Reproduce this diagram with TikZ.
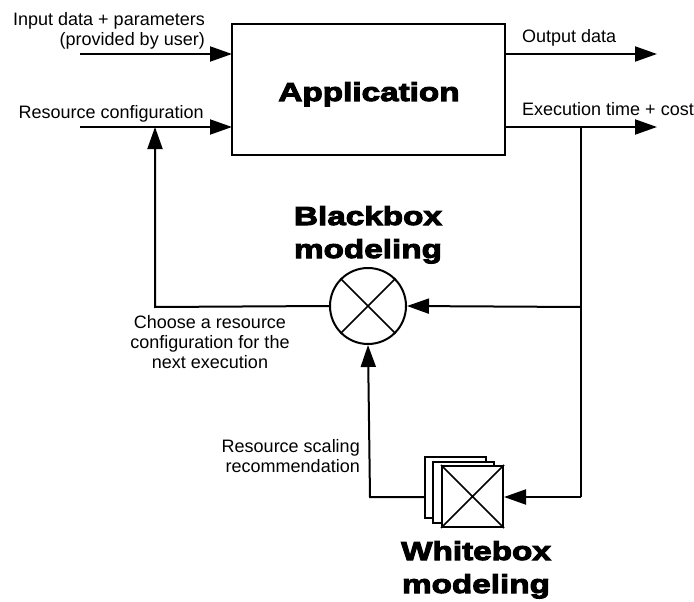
\documentclass[tikz,border=0pt]{standalone}
\usepackage{fontspec}
\setmainfont{Liberation Sans}
\newfontfamily\heavyfont[FakeBold=4,FakeStretch=1.28]{Liberation Sans Bold}
\usetikzlibrary{arrows.meta}
\begin{document}
\begin{tikzpicture}[x=1pt,y=-1pt,
  line/.style={line width=2pt},
  arr/.style={line width=2pt,-{Triangle[length=22pt,width=15pt]}},
  lbl/.style={font=\fontsize{18}{20}\selectfont,inner sep=0pt},
  big/.style={font=\fontsize{26}{33}\selectfont\heavyfont,inner sep=0pt,align=center},
  wbox/.style={draw,line width=2pt,fill=white,minimum width=61pt,minimum height=61pt,inner sep=0pt}]
\useasboundingbox (0,0) rectangle (694,602);
% Application
\node[draw,line width=2pt,minimum width=273pt,minimum height=131pt,inner sep=0pt] (app) at (368.5,89.5) {};
\node[big,anchor=base] (apptxt) at (369,101) {Application};
% inputs
\coordinate (in1) at (80,54);
\coordinate (in2) at (80,127);
\coordinate (app1) at (232,54);
\coordinate (app2) at (232,127);
\draw[arr] (in1) -- (app1);
\draw[arr] (in2) -- (app2);
\node[lbl,align=right,anchor=east] (inlbl) at (205,31) {Input data + parameters\\(provided by user)};
\node[lbl,anchor=base east] (rclbl) at (204,118) {Resource configuration};
% outputs
\coordinate (aout1) at (505,54);
\coordinate (aout2) at (505,127);
\coordinate (out1) at (657,54);
\coordinate (out2) at (657,127);
\draw[arr] (aout1) -- (out1);
\draw[arr] (aout2) -- (out2);
\node[lbl,anchor=base west] (outlbl) at (522,43) {Output data};
\node[lbl,anchor=base west] (exlbl) at (522,116) {Execution time + cost};
% blackbox
\node[draw,circle,line width=2pt,minimum size=76pt,inner sep=0pt] (bb) at (368,306) {};
\draw[line width=1.5pt] (bb.north west) -- (bb.south east) (bb.north east) -- (bb.south west);
\node[big,anchor=base] (bbtxt) at (368,258) {Blackbox\\modeling};
% whitebox
\node[wbox] (wb3) at (455.5,487.5) {};
\node[wbox] (wb2) at (463.5,492.5) {};
\node[wbox] (wb1) at (472.5,496.5) {};
\draw[line width=1.5pt] (wb1.north west) -- (wb1.south east) (wb1.north east) -- (wb1.south west);
\node[big,anchor=base] (wbtxt) at (476,593) {Whitebox\\modeling};
% feedback
\coordinate (split) at (581,127);
\coordinate (split2) at (581,307);
\coordinate (split3) at (581,497);
\coordinate (loopc) at (155,307);
\coordinate (rcup) at (155,127);
\coordinate (wbl) at (370,497);
\draw[line] (split) -- (split3);
\draw[arr] (split3) -- (wb1.east |- split3);
\draw[arr] (split2) -- (bb.east);
\draw[arr] (bb.west) -- (loopc) -- (rcup);
\draw[arr] (wb3.west |- wbl) -- (wbl) -- (bb.south);
\node[lbl,align=center,anchor=base] (chlbl) at (210,368) {Choose a resource\\configuration for the\\next execution};
\node[lbl,align=right,anchor=base east] (rslbl) at (360,472) {Resource scaling\\recommendation};
\end{tikzpicture}
\end{document}
